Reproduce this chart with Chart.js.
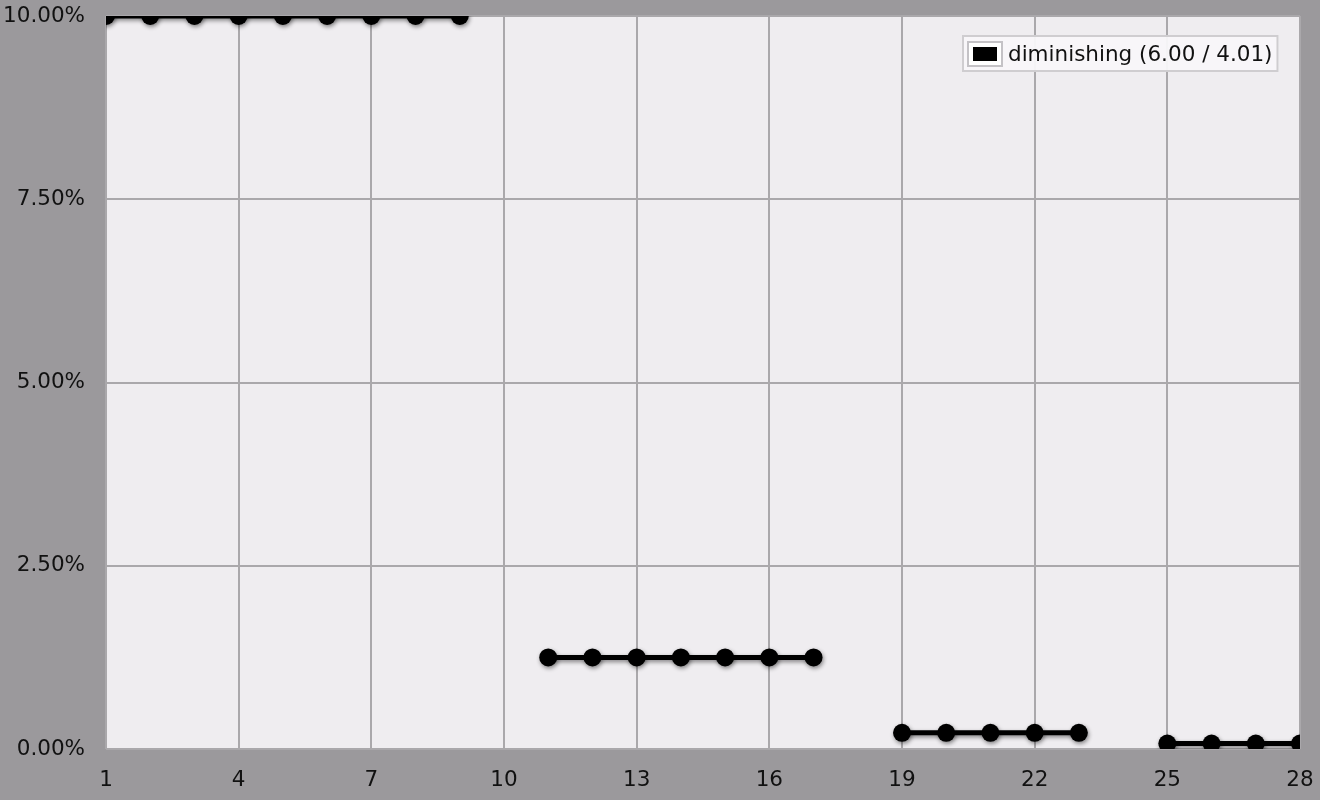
<!DOCTYPE html>
<html>
<head>
<meta charset="utf-8">
<style>
  html, body { margin: 0; padding: 0; background: #9b999c; }
  #wrap { width: 1320px; height: 800px; position: relative; }
  canvas { display: block; }
</style>
<script src="https://cdn.jsdelivr.net/npm/chart.js@4"></script>
</head>
<body>
<div id="wrap"><canvas id="c" width="1320" height="800"></canvas></div>
<script>
// ---- data ----
const categories = [1,2,3,4,5,6,7,8,9,10,11,12,13,14,15,16,17,18,19,20,21,22,23,24,25,26,27,28];
const seriesValues = [10,10,10,10,10,10,10,10,10,null,1.25,1.25,1.25,1.25,1.25,1.25,1.25,null,0.22,0.22,0.22,0.22,0.22,null,0.075,0.075,0.075,0.075];
const seriesLabel = 'diminishing (6.00 / 4.01)';
const yTicks = [0, 2.5, 5, 7.5, 10];
const xTicks = [1,4,7,10,13,16,19,22,25,28];

const FONT = '"DejaVu Sans", Verdana, sans-serif';

const plotBg = {
  id: 'plotBg',
  beforeDraw(chart) {
    const {ctx, chartArea: a} = chart;
    ctx.save();
    ctx.fillStyle = '#efedf0';
    ctx.fillRect(a.left, a.top, a.right - a.left, a.bottom - a.top);
    ctx.restore();
  }
};

const shadow = {
  id: 'shadow',
  beforeDatasetsDraw(chart) {
    const ctx = chart.ctx;
    ctx.save();
    ctx.shadowColor = 'rgba(0,0,0,0.45)';
    ctx.shadowBlur = 4;
    ctx.shadowOffsetX = 1;
    ctx.shadowOffsetY = 2;
  },
  afterDatasetsDraw(chart) {
    chart.ctx.restore();
  }
};

const boxLegend = {
  id: 'boxLegend',
  afterDraw(chart) {
    const ctx = chart.ctx;
    const label = chart.data.datasets[0].label;
    ctx.save();
    ctx.font = '21.5px ' + FONT;
    const tw = ctx.measureText(label).width;
    const x = 962, y = 35, h = 37;
    const w = 46 + tw + 6;
    ctx.fillStyle = 'rgba(248,247,249,0.95)';
    ctx.fillRect(x, y, w, h);
    ctx.strokeStyle = '#cfcdd0';
    ctx.lineWidth = 2;
    ctx.strokeRect(x + 1, y + 1, w - 2, h - 2);
    // swatch
    ctx.fillStyle = '#ffffff';
    ctx.fillRect(968, 42, 34, 24);
    ctx.strokeStyle = '#c4c2c6';
    ctx.lineWidth = 2;
    ctx.strokeRect(968, 42, 34, 24);
    ctx.fillStyle = '#000000';
    ctx.fillRect(973, 47, 24, 14);
    ctx.fillStyle = '#111111';
    ctx.textBaseline = 'middle';
    ctx.textAlign = 'left';
    ctx.fillText(label, 1008, 55);
    ctx.restore();
  }
};

new Chart(document.getElementById('c'), {
  type: 'line',
  data: {
    datasets: [{
      label: seriesLabel,
      data: categories.map((c, i) => ({x: c, y: seriesValues[i]})),
      borderColor: '#000000',
      backgroundColor: '#000000',
      borderWidth: 5,
      pointRadius: 9,
      pointHoverRadius: 9,
      pointBorderWidth: 0,
      pointBackgroundColor: '#000000',
      spanGaps: false,
      clip: 0,
      tension: 0
    }]
  },
  options: {
    responsive: false,
    animation: false,
    events: [],
    layout: { padding: { left: 0, right: 20, top: 16, bottom: 0 } },
    plugins: {
      legend: { display: false },
      tooltip: { enabled: false }
    },
    scales: {
      x: {
        type: 'linear',
        min: 1,
        max: 28,
        afterBuildTicks(scale) { scale.ticks = xTicks.map(v => ({value: v})); },
        afterFit(scale) { scale.height = 51; scale.paddingLeft = 0; scale.paddingRight = 0; },
        ticks: {
          color: '#111111',
          font: { family: FONT, size: 21.5 },
          padding: 19,
          maxRotation: 0,
          autoSkip: false
        },
        grid: { color: '#aaa8ab', lineWidth: 2, drawTicks: false },
        border: { display: false }
      },
      y: {
        min: 0,
        max: 10,
        afterBuildTicks(scale) { scale.ticks = yTicks.map(v => ({value: v})); },
        afterFit(scale) { scale.width = 106; scale.paddingTop = 0; scale.paddingBottom = 0; },
        ticks: {
          color: '#111111',
          font: { family: FONT, size: 21.5 },
          padding: 21,
          callback: v => Number(v).toFixed(2) + '%'
        },
        grid: { color: '#aaa8ab', lineWidth: 2, drawTicks: false },
        border: { display: false }
      }
    }
  },
  plugins: [plotBg, shadow, boxLegend]
});
</script>
</body>
</html>
